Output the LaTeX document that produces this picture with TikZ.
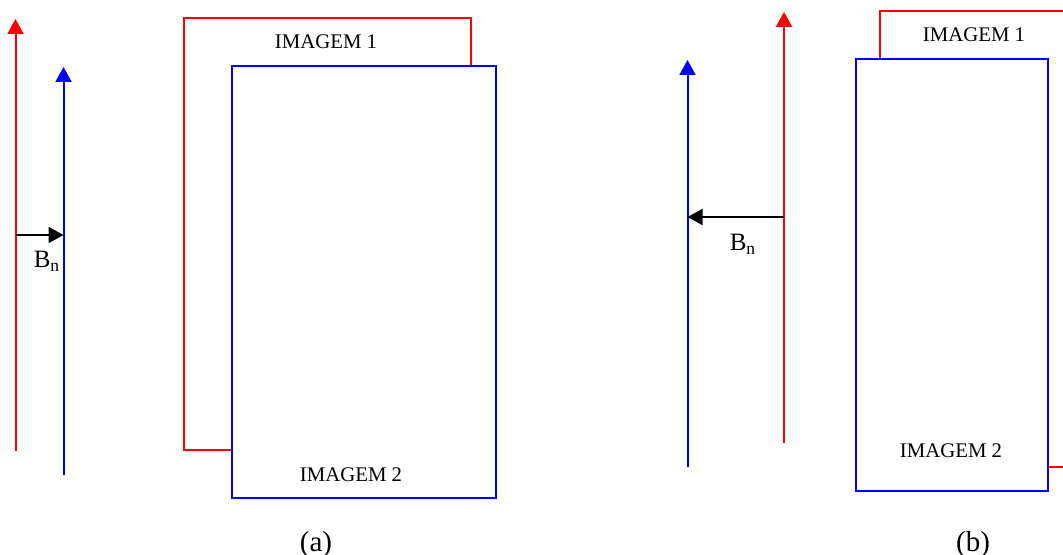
\documentclass[tikz,border=0pt]{standalone}
\usepackage{fontspec}
\setmainfont{Liberation Serif}
\usetikzlibrary{arrows.meta}

\begin{document}
\begin{tikzpicture}[x=0.5pt, y=-0.5pt, line width=1pt,
  vec/.style={-{Triangle[length=7.5pt, width=8pt]}},
  lbl/.style={font=\fontsize{10.4}{12}\selectfont, anchor=base, inner sep=0pt},
  fieldlbl/.style={font=\fontsize{12.5}{14}\selectfont, anchor=base, inner sep=0pt},
  sublbl/.style={font=\fontsize{14.5}{16}\selectfont, anchor=base, inner sep=0pt}]
  \useasboundingbox (0,0) rectangle (1063,555);
  \clip (0,0) rectangle (1063,555);

  % (a): campo vermelho e campo azul
  \coordinate (Ra0) at (15.5, 451);
  \coordinate (Ra1) at (15.5, 19);
  \coordinate (Ba0) at (63.5, 475);
  \coordinate (Ba1) at (63.5, 67);
  \coordinate (Na0) at (15.5, 235);
  \coordinate (Na1) at (63.5, 235);
  \draw[red, vec] (Ra0) -- (Ra1);
  \draw[blue, vec] (Ba0) -- (Ba1);
  \draw[black, vec] (Na0) -- (Na1);
  \node[fieldlbl] (bna) at (47, 268) {B\textsubscript{n}};

  % imagens sobrepostas (a)
  \draw[red] (184, 18) rectangle (471, 450);
  \draw[blue, fill=white] (232, 66) rectangle (496, 498);
  \node[lbl] (ima1) at (326, 49) {IMAGEM 1};
  \node[lbl] (ima2) at (351, 481) {IMAGEM 2};
  \node[sublbl] (capa) at (316, 551) {(a)};

  % (b): sentido contrario
  \coordinate (Bb0) at (687.5, 467);
  \coordinate (Bb1) at (687.5, 60);
  \coordinate (Rb0) at (784, 443);
  \coordinate (Rb1) at (784, 12);
  \coordinate (Nb0) at (784, 217);
  \coordinate (Nb1) at (687.5, 217);
  \draw[blue, vec] (Bb0) -- (Bb1);
  \draw[red, vec] (Rb0) -- (Rb1);
  \draw[black, vec] (Nb0) -- (Nb1);
  \node[fieldlbl] (bnb) at (743, 251) {B\textsubscript{n}};

  % imagens sobrepostas (b), a vermelha sai pela direita
  \draw[red] (880, 11) rectangle (1090, 467);
  \draw[blue, fill=white] (856, 59) rectangle (1048, 491);
  \node[lbl] (imb1) at (974, 42) {IMAGEM 1};
  \node[lbl] (imb2) at (951, 457) {IMAGEM 2};
  \node[sublbl] (capb) at (973, 551) {(b)};
\end{tikzpicture}
\end{document}
